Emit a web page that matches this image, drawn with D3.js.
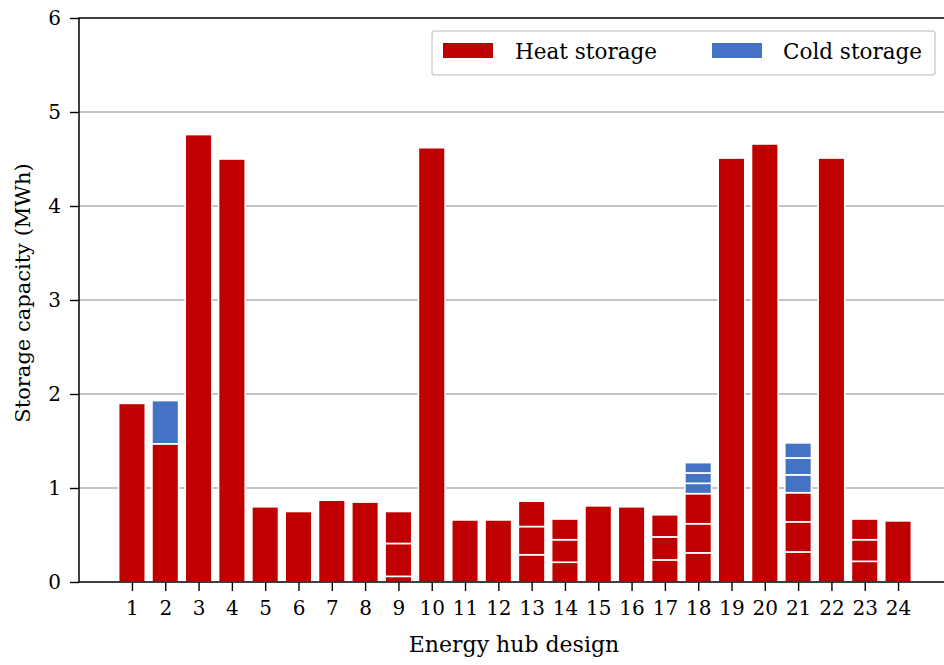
<!DOCTYPE html>
<html>
<head>
<meta charset="utf-8">
<script src="https://cdn.jsdelivr.net/npm/d3@7"></script>
<style>
  html, body { margin: 0; padding: 0; background: #fff; }
  svg { display: block; }
  svg text { font-family: "DejaVu Serif", serif; fill: #000; }
</style>
</head>
<body>
<svg id="chart" width="944" height="665"></svg>
<script>
// Storage units installed in each energy hub design (MWh), stacked bottom to top
const designs = d3.range(1, 25);
const heatUnits = [
  [1.90], [1.47], [4.76], [4.50], [0.80], [0.75], [0.87], [0.85],
  [0.06, 0.35, 0.34], [4.62], [0.66], [0.66],
  [0.29, 0.30, 0.27], [0.21, 0.24, 0.22], [0.81], [0.80],
  [0.235, 0.245, 0.235], [0.31, 0.31, 0.32], [4.51], [4.66],
  [0.32, 0.32, 0.31], [4.51], [0.22, 0.23, 0.22], [0.65]
];
const coldUnits = [
  [], [0.46], [], [], [], [], [], [],
  [], [], [], [],
  [], [], [], [],
  [], [0.11, 0.11, 0.11], [], [],
  [0.19, 0.18, 0.16], [], [], []
];
const yTicks = [0, 1, 2, 3, 4, 5, 6];
const seriesNames = ["Heat storage", "Cold storage"];
const seriesColors = ["#c00000", "#4472c4"];
const FONT = '"DejaVu Serif", serif';

(function draw() {
  const svg = d3.select("#chart");
  const mLeft = 79, mTop = 18, mBottom = 582;

  const x = d3.scaleLinear().domain([-0.59, 25.59]).range([mLeft, 951]);
  const y = d3.scaleLinear().domain([0, 6]).range([mBottom, mTop]);

  // flatten stacked segments
  const segments = [];
  designs.forEach((d, i) => {
    let base = 0;
    heatUnits[i].forEach(v => { segments.push({d, y0: base, y1: base + v, s: 0}); base += v; });
    coldUnits[i].forEach(v => { segments.push({d, y0: base, y1: base + v, s: 1}); base += v; });
  });

  // grid
  svg.append("g").selectAll("line").data(yTicks.slice(1, -1)).join("line")
    .attr("x1", mLeft).attr("x2", 944)
    .attr("y1", d => y(d)).attr("y2", d => y(d))
    .attr("stroke", "#b0b0b0").attr("stroke-width", 1.5);

  // bars
  const bw = 0.8;
  svg.append("g").selectAll("rect").data(segments).join("rect")
    .attr("x", d => x(d.d - bw / 2))
    .attr("width", x(bw) - x(0))
    .attr("y", d => y(d.y1))
    .attr("height", d => y(d.y0) - y(d.y1))
    .attr("fill", d => seriesColors[d.s])
    .attr("stroke", "#fff").attr("stroke-width", 1.6);

  // axes
  const yAxis = svg.append("g").attr("transform", `translate(${mLeft},0)`)
    .call(d3.axisLeft(y).tickValues(yTicks).tickSize(9).tickPadding(9).tickFormat(d3.format("d")));
  const xAxis = svg.append("g").attr("transform", `translate(0,${mBottom})`)
    .call(d3.axisBottom(x).tickValues(designs).tickSize(9).tickPadding(10).tickFormat(d3.format("d")));
  [yAxis, xAxis].forEach(g => {
    g.attr("font-family", FONT).attr("font-size", 20);
    g.select(".domain").remove();
    g.selectAll(".tick line").attr("stroke", "#000").attr("stroke-width", 1.4);
    g.selectAll(".tick text").attr("font-family", FONT).attr("font-size", 20);
  });

  // frame
  svg.append("path")
    .attr("d", `M944,${mTop}H${mLeft}V${mBottom}H944`)
    .attr("fill", "none").attr("stroke", "#000").attr("stroke-width", 1.5);

  // axis titles
  svg.append("text").attr("x", 514).attr("y", 652).attr("text-anchor", "middle")
    .attr("font-family", FONT).attr("font-size", 22).text("Energy hub design");
  svg.append("text").attr("transform", "translate(30,293) rotate(-90)").attr("text-anchor", "middle")
    .attr("font-family", FONT).attr("font-size", 21).text("Storage capacity (MWh)");

  // legend
  const lg = svg.append("g");
  lg.append("rect").attr("x", 432).attr("y", 31).attr("width", 503).attr("height", 44)
    .attr("rx", 3).attr("fill", "#fff").attr("fill-opacity", 0.8)
    .attr("stroke", "#d0d0d0").attr("stroke-width", 1.5);
  const legX = [443, 712], textX = [515, 783];
  seriesNames.forEach((name, i) => {
    lg.append("rect").attr("x", legX[i]).attr("y", 43).attr("width", 50).attr("height", 15)
      .attr("fill", seriesColors[i]);
    lg.append("text").attr("x", textX[i]).attr("y", 59)
      .attr("font-family", FONT).attr("font-size", 21.5).text(name);
  });
})();
</script>
</body>
</html>
